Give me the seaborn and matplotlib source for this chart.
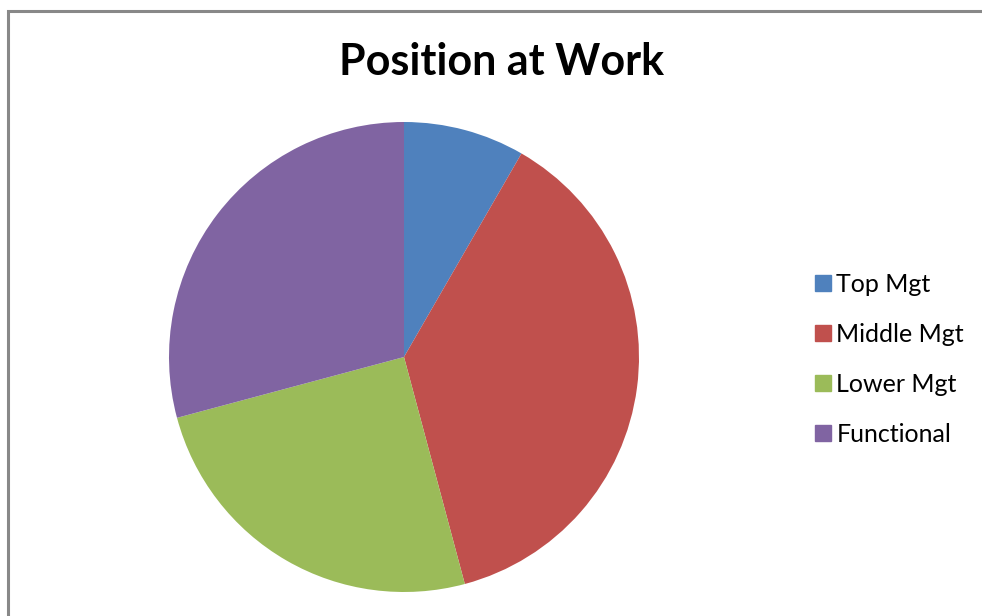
import matplotlib
matplotlib.use("Agg")
import matplotlib.pyplot as plt
from matplotlib.lines import Line2D
from matplotlib.patches import Rectangle
import seaborn as sns

categories = ["Top Mgt", "Middle Mgt", "Lower Mgt", "Functional"]
counts = [2, 9, 6, 7]
colors = ["#4F81BD", "#C0504D", "#9BBB59", "#8064A2"]
title = "Position at Work"

sns.set_theme(style="white")
plt.rcParams["font.family"] = ["Lato", "DejaVu Sans"]
plt.rcParams["text.color"] = "black"

W, H = 982, 616
fig = plt.figure(figsize=(W / 100, H / 100), dpi=100)
fig.patch.set_facecolor("white")

# chart frame (left and top edges visible)
fig.add_artist(Rectangle((8 / W, -0.05), 1.2, (H - 11) / H + 0.05,
                         transform=fig.transFigure, fill=False,
                         edgecolor="#888888", linewidth=2.2))

cx, cy, r = 404, 357, 235
ax = fig.add_axes([(cx - r) / W, (H - cy - r) / H, 2 * r / W, 2 * r / H])
ax.pie(counts, colors=colors, startangle=90, counterclock=False,
       wedgeprops=dict(linewidth=0), radius=1.0)
ax.set_xlim(-1, 1)
ax.set_ylim(-1, 1)
ax.set_aspect("equal")
ax.axis("off")

fig.text(501 / W, 1 - 62 / H, title, ha="center", va="center",
         fontsize=31, fontweight="bold", color="black")

handles = [Line2D([0], [0], marker="s", linestyle="none", markersize=11,
                  markerfacecolor=c, markeredgecolor=c) for c in colors]
leg = fig.legend(handles, categories, loc="upper left",
                 bbox_to_anchor=(804 / W, 1 - 263 / H), frameon=False,
                 fontsize=18, handlelength=0.7, handletextpad=0.2,
                 labelspacing=1.08, borderaxespad=0)
for t in leg.get_texts():
    t.set_color("black")

fig.savefig("out.png", dpi=100, facecolor="white")
